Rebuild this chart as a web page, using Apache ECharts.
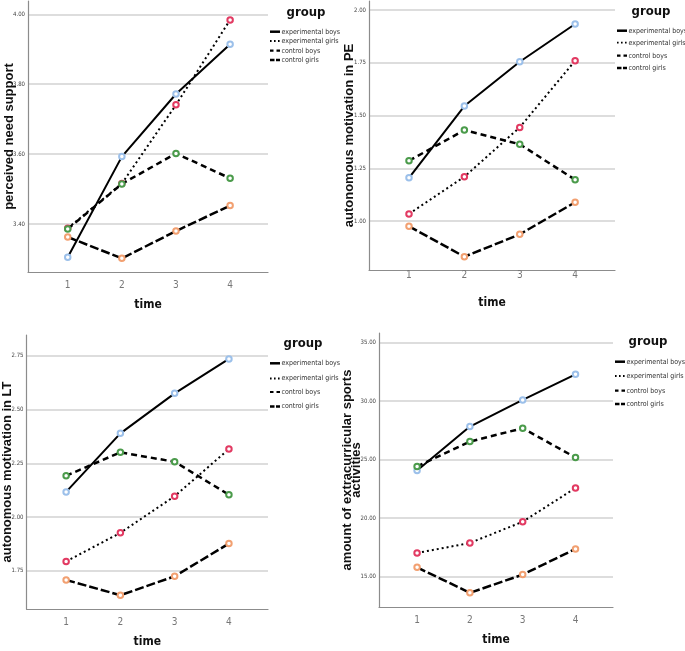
<!DOCTYPE html>
<html>
<head>
<meta charset="utf-8">
<script src="https://cdn.jsdelivr.net/npm/echarts@6.0.0/dist/echarts.min.js"></script>
<style>
  html, body { margin: 0; padding: 0; background: #fff; }
  #chart { width: 685px; height: 651px; }
</style>
</head>
<body>
<div id="chart"></div>
<script>
// time points and groups
const timePoints = [1, 2, 3, 4]
const groups = ['experimental boys', 'experimental girls', 'control boys', 'control girls']

// perceived need support
const needExpBoys = [3.305, 3.593, 3.772, 3.914]
const needExpGirls = [3.388, 3.516, 3.741, 3.984]
const needCtrlBoys = [3.386, 3.515, 3.602, 3.531]
const needCtrlGirls = [3.363, 3.302, 3.380, 3.453]
const needTicks = [3.4, 3.6, 3.8, 4.0]

// autonomous motivation in PE
const peExpBoys = [1.205, 1.545, 1.755, 1.934]
const peExpGirls = [1.034, 1.210, 1.444, 1.760]
const peCtrlBoys = [1.286, 1.431, 1.364, 1.196]
const peCtrlGirls = [0.975, 0.831, 0.937, 1.089]
const peTicks = [1.0, 1.25, 1.5, 1.75, 2.0]

// autonomous motivation in LT
const ltExpBoys = [2.117, 2.389, 2.575, 2.735]
const ltExpGirls = [1.794, 1.927, 2.097, 2.316]
const ltCtrlBoys = [2.192, 2.301, 2.257, 2.104]
const ltCtrlGirls = [1.708, 1.637, 1.725, 1.877]
const ltTicks = [1.75, 2.0, 2.25, 2.5, 2.75]

// amount of extracurricular sports activities
const sportExpBoys = [24.08, 27.83, 30.11, 32.30]
const sportExpGirls = [17.03, 17.88, 19.70, 22.58]
const sportCtrlBoys = [24.42, 26.55, 27.69, 25.19]
const sportCtrlGirls = [15.80, 13.62, 15.18, 17.37]
const sportTicks = [15, 20, 25, 30, 35]

const FONT_N = '"Liberation Sans Narrow", "Arial Narrow", "DejaVu Sans Condensed", sans-serif'
const FONT_B = '"Liberation Sans", Arial, sans-serif'

// line look per group: chart line, legend icon, marker colour
const groupStyle = [
  { width: 2, dash: 'solid', icon: { w: 2.5, dash: null }, marker: '#9cc0ea' },
  { width: 2, dash: [2, 3], icon: { w: 1.8, dash: [1.6, 2.4] }, marker: '#e23a62' },
  { width: 2.5, dash: [6, 4], icon: { w: 2.2, dash: [3.5, 3] }, marker: '#4b9b4b' },
  { width: 2.5, dash: [9, 3], icon: { w: 2.5, dash: [4.5, 1.5] }, marker: '#f2a071' }
]

const panels = [
  {
    name: 'perceived need support',
    lines: [needExpBoys, needExpGirls, needCtrlBoys, needCtrlGirls],
    ticks: needTicks,
    grid: { left: 28, top: 1, width: 240, height: 271 },
    y: [3.263, 4.038], x: [0.266, 4.70], nameGap: 14.5, labelMargin: 8,
    legend: { x: 270, gx: 306, gy: 13, rows: [31.7, 41, 50.7, 60] }
  },
  {
    name: 'autonomous motivation in PE',
    lines: [peExpBoys, peExpGirls, peCtrlBoys, peCtrlGirls],
    ticks: peTicks,
    grid: { left: 369, top: 1, width: 246, height: 269 },
    y: [0.768, 2.043], x: [0.278, 4.72], nameGap: 15, labelMargin: 0,
    legend: { x: 617, gx: 651, gy: 12, rows: [30.7, 42.7, 55.7, 68] }
  },
  {
    name: 'autonomous motivation in LT',
    lines: [ltExpBoys, ltExpGirls, ltCtrlBoys, ltCtrlGirls],
    ticks: ltTicks,
    grid: { left: 26, top: 335, width: 242, height: 274 },
    y: [1.573, 2.846], x: [0.27, 4.72], nameGap: 14.5, labelMargin: 8,
    legend: { x: 270, gx: 303, gy: 344, rows: [363.3, 378.5, 392, 406.5] }
  },
  {
    name: 'amount of extracurricular sports\nactivities',
    lines: [sportExpBoys, sportExpGirls, sportCtrlBoys, sportCtrlGirls],
    ticks: sportTicks,
    grid: { left: 379, top: 333, width: 234, height: 274 },
    y: [12.41, 35.83], x: [0.279, 4.71], nameGap: 18, labelMargin: 8,
    legend: { x: 615, gx: 648, gy: 342, rows: [361.7, 376, 390.7, 404] }
  }
]

const chart = echarts.init(document.getElementById('chart'), null, { renderer: 'canvas' })

const grids = [], xAxes = [], yAxes = [], series = [], graphics = []

panels.forEach((p, pi) => {
  grids.push(Object.assign({ containLabel: false }, p.grid))
  xAxes.push({
    type: 'value', gridIndex: pi, min: p.x[0], max: p.x[1],
    name: 'time', nameLocation: 'middle', nameGap: 27, nameMoveOverlap: false,
    nameTextStyle: { fontFamily: FONT_N, fontWeight: 'bold', fontSize: 12, color: '#111' },
    axisLine: { show: true, onZero: false, lineStyle: { color: '#8c8c8c', width: 1.2 } },
    axisTick: { show: false },
    splitLine: { show: false },
    axisLabel: {
      customValues: timePoints, margin: p.labelMargin,
      fontFamily: FONT_N, fontSize: 10, color: '#777',
      formatter: v => String(v)
    }
  })
  yAxes.push({
    type: 'value', gridIndex: pi, min: p.y[0], max: p.y[1],
    name: p.name, nameLocation: 'middle', nameGap: p.nameGap, nameRotate: 90,
    nameMoveOverlap: false,
    nameTextStyle: { fontFamily: FONT_B, fontWeight: 'bold', fontSize: 13, color: '#111', lineHeight: 9 },
    axisLine: { show: true, lineStyle: { color: '#8c8c8c', width: 1.2 } },
    axisTick: { show: false, customValues: p.ticks },
    splitLine: { show: true, lineStyle: { color: '#d2d2d2', width: 1.5 } },
    axisLabel: {
      customValues: p.ticks, margin: 3,
      fontFamily: FONT_N, fontSize: 6, color: '#444',
      formatter: v => v.toFixed(2)
    }
  })
  p.lines.forEach((vals, gi) => {
    const st = groupStyle[gi]
    series.push({
      name: groups[gi], type: 'line', xAxisIndex: pi, yAxisIndex: pi,
      data: timePoints.map((t, i) => [t, vals[i]]),
      symbol: 'emptyCircle', symbolSize: 5.5,
      itemStyle: { color: st.marker, borderWidth: 1 },
      lineStyle: { color: '#000', width: st.width, type: st.dash },
      z: 3 + gi, silent: true, animation: false
    })
  })

  // legend block
  const lg = p.legend
  graphics.push({
    type: 'text', x: lg.gx, y: lg.gy,
    style: { text: 'group', font: 'bold 13px ' + FONT_N, fill: '#111', align: 'center', verticalAlign: 'middle' }
  })
  groups.forEach((g, gi) => {
    const ic = groupStyle[gi].icon
    graphics.push({
      type: 'line', shape: { x1: lg.x, y1: lg.rows[gi], x2: lg.x + 10, y2: lg.rows[gi] },
      style: { stroke: '#000', lineWidth: ic.w, lineDash: ic.dash }
    })
    graphics.push({
      type: 'text', x: lg.x + 11.5, y: lg.rows[gi],
      style: { text: g, font: '7px ' + FONT_N, fill: '#333', align: 'left', verticalAlign: 'middle' }
    })
  })
})

chart.setOption({
  backgroundColor: '#fff',
  animation: false,
  grid: grids,
  xAxis: xAxes,
  yAxis: yAxes,
  series: series,
  graphic: graphics
})
</script>
</body>
</html>
